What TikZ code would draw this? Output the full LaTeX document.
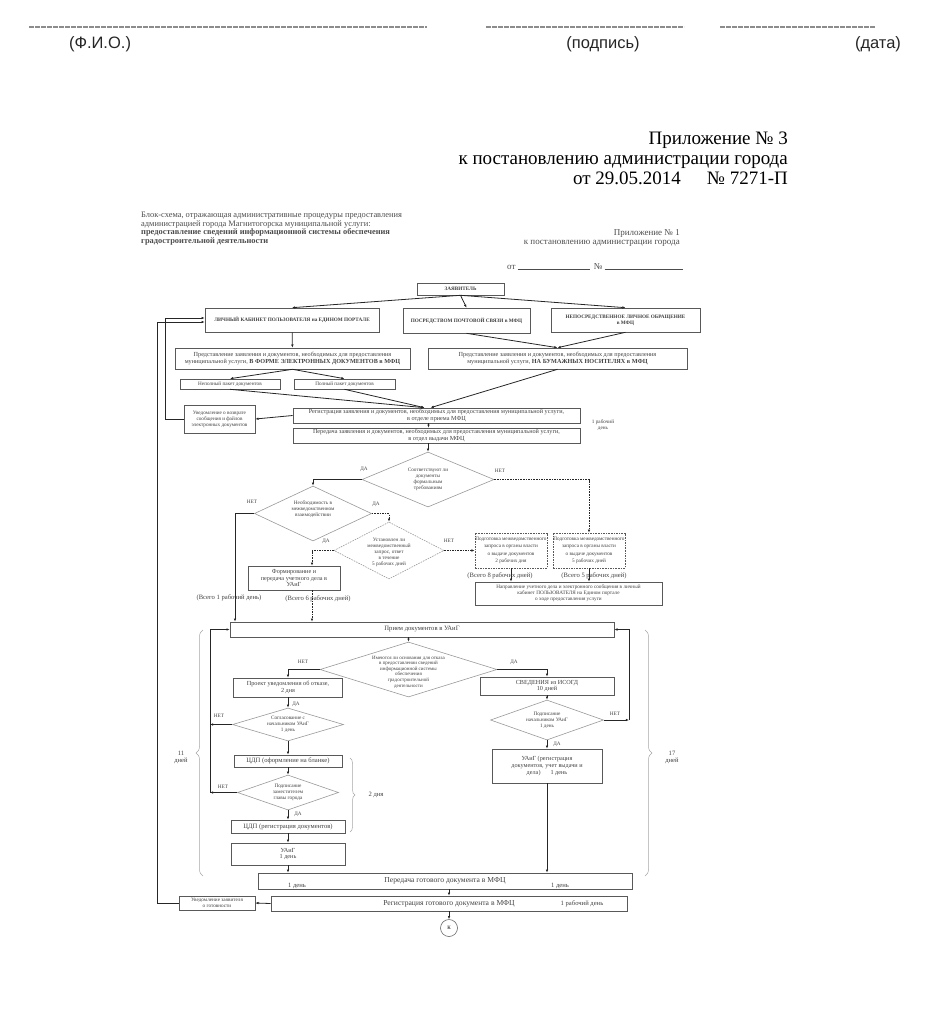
\documentclass[tikz,border=0pt]{standalone}
\usepackage{fontspec}
\setmainfont{Liberation Serif}
\newfontfamily\hdrfont{Liberation Sans}
\usetikzlibrary{arrows.meta,calc,shapes.geometric,decorations.pathreplacing}
\newcommand\dgfont{\fontsize{6.2}{6.8}\selectfont}
\newcommand\smfont{\fontsize{5.2}{6}\selectfont}
\newcommand\lbfont{\fontsize{6.6}{7}\selectfont}
\newcommand\bgfont{\fontsize{7.6}{8}\selectfont}
\begin{document}
\begin{tikzpicture}[x=1pt, y=-1pt,
  box/.style={rectangle, draw=black!65, line width=.6pt, inner sep=.5pt,
              align=center, text=black!75, font=\dgfont},
  dbox/.style={box, dash pattern=on 1.6pt off 1pt},
  dec/.style={diamond, draw=black!40, line width=.6pt, inner sep=0pt},
  dtxt/.style={align=center, text=black!75, font=\smfont, inner sep=0pt},
  sz/.style 2 args={minimum width=#1pt, minimum height=#2pt},
  arr/.style={-{Latex[length=3.2pt,width=2.6pt]}, line width=.8pt, draw=black!85},
  darr/.style={arr, dash pattern=on 1.6pt off 1pt},
  lbl/.style={font=\smfont, text=black!75, inner sep=0pt},
  brc/.style={decorate, decoration={brace, amplitude=7pt}, draw=black!35, line width=.5pt},
  uline/.style={draw=black!45, line width=1.4pt, dash pattern=on 5pt off 1pt},
  hdr/.style={font=\hdrfont\fontsize{16.5}{17}\selectfont, text=black!85, inner sep=0pt}
]
\useasboundingbox (0,0) rectangle (940,1012);

% signature lines
\draw[uline] (29,27) -- (427,27);
\draw[uline] (486,27) -- (684,27);
\draw[uline] (720,27) -- (875,27);
\node[hdr] (fio) at (100,44) {(Ф.И.О.)};
\node[hdr] (sign) at (603,44) {(подпись)};
\node[hdr] (date) at (878,44) {(дата)};

% appendix header
\node[anchor=base east, font=\fontsize{19}{20}\selectfont, inner sep=0pt] (app3) at (788,144) {Приложение № 3};
\node[anchor=base east, font=\fontsize{19}{20}\selectfont, inner sep=0pt] (app3b) at (788,164) {к постановлению администрации города};
\node[anchor=base east, font=\fontsize{19}{20}\selectfont, inner sep=0pt] (app3c) at (788,184) {от 29.05.2014\hspace{26pt}№ 7271-П};

% scanned page header
\node[anchor=north west, align=left, inner sep=0pt, text=black!70,
      font=\fontsize{8.4}{8.6}\selectfont] (intro) at (141,212)
  {Блок-схема, отражающая административные процедуры предоставления\\
   администрацией города Магнитогорска муниципальной услуги:\\
   \textbf{предоставление сведений информационной системы обеспечения}\\
   \textbf{градостроительной деятельности}};
\node[anchor=base east, inner sep=0pt, text=black!70, font=\fontsize{9}{10}\selectfont] (app1) at (680,235) {Приложение № 1};
\node[anchor=base east, inner sep=0pt, text=black!70, font=\fontsize{9}{10}\selectfont] (app1b) at (680,244) {к постановлению администрации города};
\node[anchor=base west, inner sep=0pt, text=black!70, font=\fontsize{9}{10}\selectfont] (app1c) at (507,269) {от \rule{72pt}{.4pt}\hspace{4pt}№ \rule{78pt}{.4pt}};

% submission
\node[box, sz={87}{12}, font=\smfont\bfseries] (zayav) at (460.5,289) {ЗАЯВИТЕЛЬ};
\node[box, sz={174}{24}, font=\smfont\bfseries] (b1) at (292,320) {ЛИЧНЫЙ КАБИНЕТ ПОЛЬЗОВАТЕЛЯ на ЕДИНОМ ПОРТАЛЕ};
\node[box, sz={127}{25}, font=\smfont\bfseries] (b2) at (466.5,320.5) {ПОСРЕДСТВОМ ПОЧТОВОЙ СВЯЗИ в МФЦ};
\node[box, sz={149}{24}, font=\smfont\bfseries] (b3) at (625.5,320) {НЕПОСРЕДСТВЕННОЕ ЛИЧНОЕ ОБРАЩЕНИЕ\\в МФЦ};
\draw[arr] (zayav.south) -- (b1.north);
\draw[arr] (zayav.south) -- (b2.north);
\draw[arr] (zayav.south) -- (b3.north);

\node[box, sz={235}{21}] (b4) at (292.5,358.5) {Представление заявления и документов, необходимых для предоставления\\муниципальной услуги, \textbf{В ФОРМЕ ЭЛЕКТРОННЫХ ДОКУМЕНТОВ в МФЦ}};
\node[box, sz={259}{21}] (b5) at (557.5,358.5) {Представление заявления и документов, необходимых для предоставления\\муниципальной услуги, \textbf{НА БУМАЖНЫХ НОСИТЕЛЯХ в МФЦ}};
\draw[arr] (b1) -- (b4);
\draw[arr] (b2.south) -- (b5.north);
\draw[arr] (b3.south) -- (b5.north);

\node[box, sz={100}{10}, font=\smfont] (b6) at (230,384) {Неполный пакет документов};
\node[box, sz={101}{10}, font=\smfont] (b7) at (344.5,384) {Полный пакет документов};
\draw[arr] (b4.south) -- (b6.north);
\draw[arr] (b4.south) -- (b7.north);

% registration
\node[box, sz={287}{15}] (b8) at (436.5,415.5) {Регистрация заявления и документов, необходимых для предоставления муниципальной услуги,\\в отделе приема МФЦ};
\node[box, sz={287}{15}] (b9) at (436.5,435.5) {Передача заявления и документов, необходимых для предоставления муниципальной услуги,\\в отдел выдачи МФЦ};
\draw[arr] (b6.south) -- ($(b8.north)+(-12,0)$);
\draw[arr] (b7.south) -- ($(b8.north)+(-12,0)$);
\draw[arr] (b5.south) -- ($(b8.north)+(-6,0)$);
\draw[arr] ($(b8.south)+(-8,0)$) -- ($(b9.north)+(-8,0)$);
\node[lbl, align=center] (t1) at (603,425) {1 рабочий\\день};

\node[box, sz={71}{28}, font=\smfont] (otkaz) at (219.5,419) {Уведомление о возврате\\сообщения и файлов\\электронных документов};
\draw[arr] (b8.west) -- (otkaz.east);
\draw[arr] (otkaz.west) -- ++(-18,0) |- ($(b1.west)+(0,-2)$);

% checks
\node[dec, sz={132}{55}] (d1) at (428,479.5) {};
\node[dtxt] (d1t) at (d1) {Соответствуют ли\\документы\\формальным\\требованиям};
\draw[arr] (b9.south -| d1.north) -- (d1.north);
\node[lbl] (d1y) at (364,469) {ДА};
\node[lbl] (d1n) at (500,471) {НЕТ};

\node[dec, sz={117}{55}] (d2) at (313,513.5) {};
\node[dtxt] (d2t) at (313,509) {Необходимость в\\межведомственном\\взаимодействии};
\draw[arr] (d1.west) -| (d2.north);
\node[lbl] (d2n) at (252,502) {НЕТ};
\node[lbl] (d2y) at (376,504) {ДА};

\node[dec, dash pattern=on 1.6pt off 1pt, sz={110}{57}] (d3) at (389,550.5) {};
\node[dtxt] (d3t) at (389,552) {Установлен ли\\межведомственный\\запрос, ответ\\в течение\\5 рабочих дней};
\draw[darr] (d2.east) -| (d3.north);
\node[lbl] (d3y) at (326,541) {ДА};
\node[lbl] (d3n) at (449,541) {НЕТ};

\node[box, sz={92}{24}] (form) at (294,578) {Формирование и\\передача учетного дела в\\УАиГ};
\coordinate (fx) at ($(form.north)+(18,0)$);
\coordinate (fy) at ($(form.south)+(18,0)$);
\draw[darr] (d3.west) -| (fx);

\node[dbox, sz={72}{35}, font=\fontsize{5.2}{7.4}\selectfont] (pod1) at (511,550.5) {Подготовка межведомственного\\запроса в органы власти\\о выдаче документов\\2 рабочих дня};
\node[dbox, sz={72}{35}, font=\fontsize{5.2}{7.4}\selectfont] (pod2) at (589,550.5) {Подготовка межведомственного\\запроса в органы власти\\о выдаче документов\\5 рабочих дней};
\draw[darr] (d3.east) -- (pod1.west);
\draw[darr] (d1.east) -| (pod2.north);
\node[lbl, font=\lbfont] (vs8) at (500,576) {(Всего 8 рабочих дней)};
\node[lbl, font=\lbfont] (vs5) at (594,576) {(Всего 5 рабочих дней)};

\node[box, sz={187}{23}, font=\smfont] (naprav) at (568.5,593.5) {Направление учетного дела и электронного сообщения в личный\\кабинет ПОЛЬЗОВАТЕЛЯ на Едином портале\\о ходе предоставления услуги};
\draw[arr] (pod1.south) -- (pod1.south |- naprav.north);
\draw[arr] (pod2.south) -- (pod2.south |- naprav.north);
\node[lbl, font=\lbfont] (vs1) at (229,598) {(Всего 1 рабочий день)};
\node[lbl, font=\lbfont] (vs6) at (318,599) {(Всего 6 рабочих дней)};

% UAiG
\node[box, sz={384}{15}, font=\lbfont] (priem) at (422,629.5) {Прием документов в УАиГ};
\coordinate (nx) at (235,0);
\draw[arr] (d2.west) -| (nx |- priem.north);
\draw[darr] (fy) -- (fy |- priem.north);

\node[dec, sz={177}{55}] (d4) at (408.5,669.5) {};
\node[dtxt, font=\fontsize{5}{5.6}\selectfont] (d4t) at (408.5,672) {Имеются ли основания для отказа\\в предоставлении сведений\\информационной системы\\обеспечения\\градостроительной\\деятельности};
\draw[arr] (d4.north |- priem.south) -- (d4.north);
\node[lbl] (d4n) at (303,662) {НЕТ};
\node[lbl] (d4y) at (514,662) {ДА};

\node[box, sz={109}{19}] (proekt) at (288,687.5) {Проект уведомления об отказе,\\2 дня};
\node[box, sz={134}{18}] (sved) at (547,686) {СВЕДЕНИЯ из ИСОГД\\10 дней};
\draw[arr] (d4.west) -| (proekt.north);
\draw[arr] (d4.east) -| (sved.north);

% refusal branch
\node[dec, sz={111}{33}] (d6) at (288,724.5) {};
\node[dtxt] (d6t) at (d6) {Согласование с\\начальником УАиГ\\1 день};
\draw[arr] (proekt) -- (d6);
\node[lbl] (py) at (296,704) {ДА};
\node[lbl] (d6n) at (219,716) {НЕТ};

\node[box, sz={108}{12}, font=\lbfont] (cdp1) at (288,761) {ЦДП (оформление на бланке)};
\draw[arr] (d6) -- (cdp1);

\node[dec, sz={101}{35}] (d7) at (288,792.5) {};
\node[dtxt] (d7t) at (d7) {Подписание\\заместителем\\главы города};
\draw[arr] (cdp1) -- (d7);
\node[lbl] (d7n) at (223,787) {НЕТ};
\node[lbl] (d7y) at (298,814) {ДА};

\node[box, sz={114}{13}, font=\lbfont] (cdp2) at (288,826.5) {ЦДП (регистрация документов)};
\node[box, sz={114}{22}] (uaig1) at (288,854) {УАиГ\\1 день};
\draw[arr] (d7) -- (cdp2);
\draw[arr] (cdp2) -- (uaig1);

\coordinate (lft) at (210,0);
\draw[arr] (d6.west) -- (d6.west -| lft);
\draw[arr] (d7.west) -- (d7.west -| lft);
\draw[arr] (d7.west -| lft) |- (priem.west);

% issue branch
\node[dec, sz={113}{40}] (d5) at (547,720) {};
\node[dtxt] (d5t) at (d5) {Подписание\\начальником УАиГ\\1 день};
\draw[arr] (sved) -- (d5);
\node[lbl] (d5n) at (615,714) {НЕТ};
\node[lbl] (d5y) at (557,744) {ДА};
\coordinate (rgt) at (629,0);
\draw[arr] (d5.east) -- (d5.east -| rgt);
\draw[arr] (d5.east -| rgt) |- (priem.east);

\node[box, sz={110}{34}] (uaig2) at (547,766) {УАиГ (регистрация\\документов, учет выдачи и\\дела)\hspace{10pt}1 день};
\draw[arr] (d5) -- (uaig2);

% delivery
\node[box, sz={374}{16}, font=\bgfont] (pered) at (445,881) {Передача готового документа в МФЦ};
\draw[arr] (uaig1.south) -- (uaig1.south |- pered.north);
\draw[arr] (uaig2.south) -- (uaig2.south |- pered.north);
\node[lbl, font=\lbfont] (pd1) at (297,886) {1 день};
\node[lbl, font=\lbfont] (pd2) at (560,886) {1 день};

\node[box, sz={356}{15}, font=\bgfont] (regis) at (449,903.5) {Регистрация готового документа в МФЦ};
\node[lbl, font=\lbfont] (rg1) at (582,903.5) {1 рабочий день};
\draw[arr] (regis.north |- pered.south) -- (regis.north);

\node[box, sz={76}{14}, font=\smfont] (uved) at (217,903) {Уведомление заявителя\\о готовности};
\draw[arr] (regis.west) -- (uved.east);
\draw[arr] (uved.west) -- ++(-21,0) |- ($(b1.west)+(0,2)$);

\node[circle, draw=black!60, line width=.6pt, minimum size=17pt, inner sep=0pt, font=\smfont] (endc) at (449,928) {К};
\draw[arr] (regis) -- (endc);

% terms
\draw[brc] (203,876) -- (203,630);
\node[lbl, font=\lbfont, align=center] (br1) at (181,757) {11\\дней};
\draw[brc] (645,630) -- (645,876);
\node[lbl, font=\lbfont, align=center] (br2) at (672,757) {17\\дней};
\draw[brc, decoration={brace, amplitude=5pt}] (350,758) -- (350,832);
\node[lbl, font=\lbfont] (br3) at (376,795) {2 дня};
\end{tikzpicture}
\end{document}
